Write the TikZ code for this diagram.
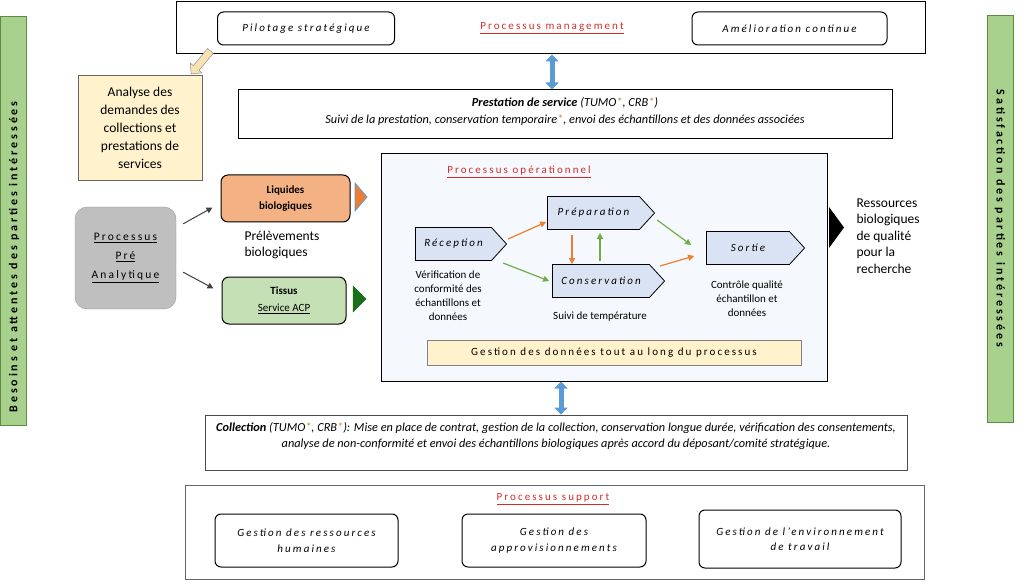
\documentclass[tikz,border=0pt]{standalone}
\usepackage{fontspec}
\setmainfont{Carlito}
\newfontfamily\espace[LetterSpace=19]{Carlito}
\newfontfamily\espacelarge[LetterSpace=24]{Carlito}
\usetikzlibrary{shapes.symbols,shapes.arrows,arrows.meta,calc}

\definecolor{rouge}{HTML}{D42A2A}
\definecolor{bleuclair}{HTML}{DAE3F3}
\definecolor{fondbleu}{HTML}{F5F8FC}
\definecolor{jaune}{HTML}{FFF2CC}
\definecolor{saumon}{HTML}{F4B183}
\definecolor{vertclair}{HTML}{C5E0B4}
\definecolor{vertbarre}{HTML}{A9D18E}
\definecolor{vertbord}{HTML}{5E8C3E}
\definecolor{vertfonce}{HTML}{1B6E1B}
\definecolor{orange}{HTML}{ED7D31}
\definecolor{vert}{HTML}{70AD47}
\definecolor{bleu}{HTML}{5B9BD5}
\definecolor{sable}{HTML}{F9E2B2}

\begin{document}
\begin{tikzpicture}[x=1pt,y=-1pt,
	cadre/.style={draw,line width=1pt,inner sep=0pt},
	boite/.style={draw,rounded corners=6pt,line width=1pt,inner sep=0pt,align=center,
		font=\espace\itshape\fontsize{11}{15.5}\selectfont},
	etape/.style={signal,signal to=east,signal pointer angle=95,draw,line width=0.8pt,
		fill=bleuclair,inner sep=0pt,minimum height=33pt,
		font=\espace\itshape\fontsize{11}{13}\selectfont},
	titre/.style={text=rouge,font=\espace\fontsize{11}{13}\selectfont},
	petit/.style={align=center,font=\fontsize{11}{14}\selectfont},
	oarr/.style={orange,line width=1.2pt,-{Triangle[length=6pt,width=6pt]}},
	garr/.style={vert,line width=1.2pt,-{Triangle[length=6pt,width=6pt]}},
	barr/.style={bleu,line width=5pt,{Triangle[length=7pt,width=13pt]}-{Triangle[length=7pt,width=13pt]}},
	darr/.style={black!75,line width=1pt,-{Triangle[length=6pt,width=6pt]}}]
\useasboundingbox (0,0) rectangle (1024,585);

% barres laterales
\node[draw=vertbord,fill=vertbarre,minimum width=26pt,minimum height=409pt] (besoins) at (13,220.5) {};
\node[rotate=90,anchor=west,font=\espacelarge\bfseries\fontsize{12}{14}\selectfont] (txtbesoins) at (14,416) {Besoins et attentes des parties intéressées};
\node[draw=vertbord,fill=vertbarre,minimum width=26pt,minimum height=407pt] (satisf) at (1000,218.5) {};
\node[rotate=-90,font=\espacelarge\bfseries\fontsize{12}{14}\selectfont] (txtsatisf) at (1000,218.5) {Satisfaction des parties intéressées};

% processus management
\node[cadre,minimum width=749pt,minimum height=52pt] (mgmt) at (550.5,28) {};
\node[boite,minimum width=177pt,minimum height=33pt] (pilot) at (306,28.5) {Pilotage stratégique};
\node[titre] (titremgmt) at (552,28) {\underline{Processus management}};
\node[boite,minimum width=195pt,minimum height=33pt] (amelio) at (789.5,28.5) {Amélioration continue};

% analyse des demandes
\node[draw=black!60,fill=jaune,minimum width=124pt,minimum height=105pt,align=center,
	font=\fontsize{13.5}{18}\selectfont] (analyse) at (140,127.5)
	{Analyse des\\demandes des\\collections et\\prestations de\\services};
\node[single arrow,draw=black!50,fill=sable,rotate=230,inner sep=3.5pt,minimum height=30pt,
	single arrow head extend=4pt,single arrow head indent=0pt] (versanalyse) at (202,61) {};

% prestation
\node[cadre,minimum width=654pt,minimum height=49pt] (prest) at (565,114.5) {};
\node[align=center,font=\itshape\fontsize{12.3}{17}\selectfont] (txtprest) at ([yshift=3pt]prest.center)
	{\textbf{Prestation de service} (TUMO\textcolor{vert}{*}, CRB\textcolor{orange}{*})\\
	Suivi de la prestation, conservation temporaire\textcolor{orange}{*}, envoi des échantillons et des données associées};
\draw[barr] (mgmt.south -| 552,0) -- (prest.north -| 552,0);

% pre analytique
\node[draw=black!40,fill=black!25,rounded corners=12pt,minimum width=101pt,minimum height=102pt,
	align=center,font=\espace\fontsize{11.5}{19}\selectfont] (pre) at (125.5,258)
	{\underline{Processus}\\\underline{Pré}\\\underline{Analytique}};
\node[draw,line width=1pt,fill=saumon,rounded corners=7pt,minimum width=129pt,minimum height=47pt,
	align=center,font=\bfseries\fontsize{11}{16}\selectfont] (liq) at (285.5,198.5) {Liquides\\biologiques};
\node[draw,line width=1pt,fill=vertclair,rounded corners=7pt,minimum width=124pt,minimum height=47pt,
	align=center,font=\fontsize{11}{17}\selectfont] (tissus) at (284,300.5) {\textbf{Tissus}\\\underline{Service ACP}};
\draw[darr] ([xshift=7pt,yshift=-17pt]pre.north east) -- ([xshift=-8pt,yshift=-9pt]liq.west);
\draw[darr] ([xshift=7pt,yshift=37pt]pre.south east) -- ([xshift=-8pt,yshift=12pt]tissus.west);
\node[anchor=west,align=left,font=\fontsize{13.5}{16.5}\selectfont] (prelev) at (241,245) {Prélèvements\\biologiques};
\draw[bleu,fill=orange,line width=0.8pt] (355,183) -- (367,197) -- (355,211) -- cycle;
\draw[vertfonce,fill=vertfonce] (353,286) -- (366,299) -- (353,312) -- cycle;

% processus operationnel
\node[cadre,fill=fondbleu,minimum width=446pt,minimum height=227pt] (oper) at (604,267.5) {};
\node[titre] (titreoper) at (519,172) {\underline{Processus opérationnel}};
\node[etape,minimum width=91pt] (rec) at (453.5,244) {Réception\hspace{12pt}};
\node[etape,minimum width=107pt] (prep) at (593.5,213) {Préparation\hspace{12pt}};
\node[etape,minimum width=112pt] (cons) at (601,281) {Conservation\hspace{10pt}};
\node[etape,minimum width=98pt] (sortie) at (748,248) {Sortie\hspace{12pt}};
\node[petit] (verif) at (448,296) {Vérification de\\conformité des\\échantillons et\\données};
\node[petit] (suivi) at (600,317) {Suivi de température};
\node[petit] (controle) at (747,299) {Contrôle qualité\\échantillon et\\données};
\draw[oarr] ([xshift=1pt,yshift=5pt]rec.east) -- ([xshift=-1pt,yshift=-9pt]prep.west);
\draw[garr] ([xshift=-4pt,yshift=-19pt]rec.east) -- ([xshift=-3pt]cons.west);
\draw[oarr,shorten <=5pt] (prep.south -| 572,0) -- (cons.north -| 572,0);
\draw[garr,shorten <=3pt,shorten >=3pt] (cons.north -| 600,0) -- (prep.south -| 600,0);
\draw[garr] ([xshift=2pt,yshift=-7pt]prep.east) -- ([xshift=-15pt,yshift=3pt]sortie.west);
\draw[oarr] ([xshift=-5pt,yshift=15pt]cons.east) -- ([xshift=-12pt,yshift=-8pt]sortie.west);
\node[draw=black!50,fill=jaune,minimum width=374pt,minimum height=25pt,
	font=\espace\fontsize{11}{13}\selectfont] (donnees) at (614,352.5) {Gestion des données tout au long du processus};
\fill (829,207) -- (844,227.5) -- (829,248) -- cycle;
\node[anchor=west,align=left,font=\fontsize{13.5}{16.5}\selectfont] (ressources) at (853,236)
	{Ressources\\biologiques\\de qualité\\pour la\\recherche};

% collection
\node[draw=black!70,line width=0.8pt,minimum width=702pt,minimum height=55pt] (coll) at (556,442.5) {};
\node[anchor=north,align=center,font=\itshape\fontsize{12.3}{16.5}\selectfont] (txtcoll) at ([yshift=-4pt]coll.north)
	{\textbf{Collection} (TUMO\textcolor{vert}{*}, CRB\textcolor{orange}{*}): Mise en place de contrat, gestion de la collection, conservation longue durée, vérification des consentements,\\
	analyse de non-conformité et envoi des échantillons biologiques après accord du déposant/comité stratégique.};
\draw[barr] (oper.south -| 561,0) -- (coll.north -| 561,0);

% processus support
\node[draw=black!60,line width=0.8pt,minimum width=739pt,minimum height=94pt] (support) at (554.5,532) {};
\node[titre] (titresupport) at (553,499) {\underline{Processus support}};
\node[boite,minimum width=183pt,minimum height=53pt] (rh) at (306.5,540.5) {Gestion des ressources\\humaines};
\node[boite,minimum width=184pt,minimum height=53pt] (appro) at (554,540.5) {Gestion des\\approvisionnements};
\node[boite,minimum width=202pt,minimum height=58pt] (env) at (800,539) {Gestion de l’environnement\\de travail};
\end{tikzpicture}
\end{document}
